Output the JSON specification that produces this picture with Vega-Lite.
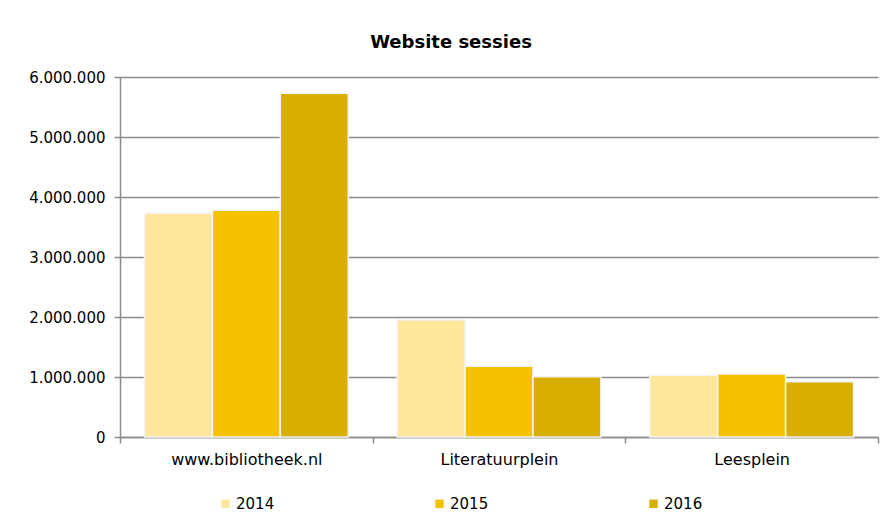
{
  "$schema": "https://vega.github.io/schema/vega-lite/v6.json",
  "autosize": "none",
  "padding": {"left": 120, "top": 77, "right": 6, "bottom": 84},
  "width": 758,
  "height": 360,
  "background": "white",
  "config": {
    "locale": {"number": {"decimal": ",", "thousands": ".", "grouping": [3], "currency": ["€", ""]}},
    "font": "DejaVu Sans",
    "view": {"stroke": null}
  },
  "title": {
    "text": "Website sessies",
    "font": "DejaVu Sans",
    "fontSize": 18,
    "fontWeight": "bold",
    "color": "#000000",
    "anchor": "middle",
    "dx": -48,
    "offset": 18
  },
  "data": {
    "values": [
      {"site": "www.bibliotheek.nl", "jaar": "2014", "sessies": 3730000},
      {"site": "www.bibliotheek.nl", "jaar": "2015", "sessies": 3780000},
      {"site": "www.bibliotheek.nl", "jaar": "2016", "sessies": 5730000},
      {"site": "Literatuurplein", "jaar": "2014", "sessies": 1950000},
      {"site": "Literatuurplein", "jaar": "2015", "sessies": 1180000},
      {"site": "Literatuurplein", "jaar": "2016", "sessies": 1005000},
      {"site": "Leesplein", "jaar": "2014", "sessies": 1030000},
      {"site": "Leesplein", "jaar": "2015", "sessies": 1050000},
      {"site": "Leesplein", "jaar": "2016", "sessies": 920000}
    ]
  },
  "mark": {"type": "bar", "stroke": "#f4f4f4", "strokeWidth": 1.5},
  "encoding": {
    "x": {
      "field": "site",
      "type": "nominal",
      "sort": ["www.bibliotheek.nl", "Literatuurplein", "Leesplein"],
      "scale": {"paddingInner": 0, "paddingOuter": 0},
      "axis": {
        "title": null,
        "labelAngle": 0,
        "tickBand": "extent",
        "domainColor": "#8c8c8c",
        "domainWidth": 1.5,
        "tickColor": "#8c8c8c",
        "tickWidth": 1.5,
        "tickSize": 6,
        "labelFont": "DejaVu Sans",
        "labelFontSize": 16,
        "labelColor": "#000000",
        "labelPadding": 8,
        "grid": false
      }
    },
    "xOffset": {
      "field": "jaar",
      "type": "nominal",
      "scale": {"paddingInner": 0, "paddingOuter": 0.36}
    },
    "y": {
      "field": "sessies",
      "type": "quantitative",
      "scale": {"domain": [0, 6000000], "nice": false},
      "axis": {
        "title": null,
        "values": [0, 1000000, 2000000, 3000000, 4000000, 5000000, 6000000],
        "format": ",d",
        "grid": true,
        "gridColor": "#8c8c8c",
        "gridWidth": 1.5,
        "domainColor": "#8c8c8c",
        "domainWidth": 1.5,
        "tickColor": "#8c8c8c",
        "tickWidth": 1.5,
        "tickSize": 6,
        "labelFont": "DejaVu Sans",
        "labelFontSize": 15,
        "labelColor": "#000000",
        "labelPadding": 9
      }
    },
    "color": {
      "field": "jaar",
      "type": "nominal",
      "scale": {"domain": ["2014", "2015", "2016"], "range": ["#FEE79C", "#F4C200", "#D8AE00"]},
      "legend": {
        "title": null,
        "orient": "none",
        "direction": "horizontal",
        "columns": 3,
        "legendX": 98,
        "legendY": 419,
        "symbolType": "square",
        "symbolSize": 70,
        "symbolStrokeWidth": 0,
        "labelFont": "DejaVu Sans",
        "labelFontSize": 15,
        "labelColor": "#000000",
        "labelOffset": 3,
        "columnPadding": 157
      }
    }
  }
}
